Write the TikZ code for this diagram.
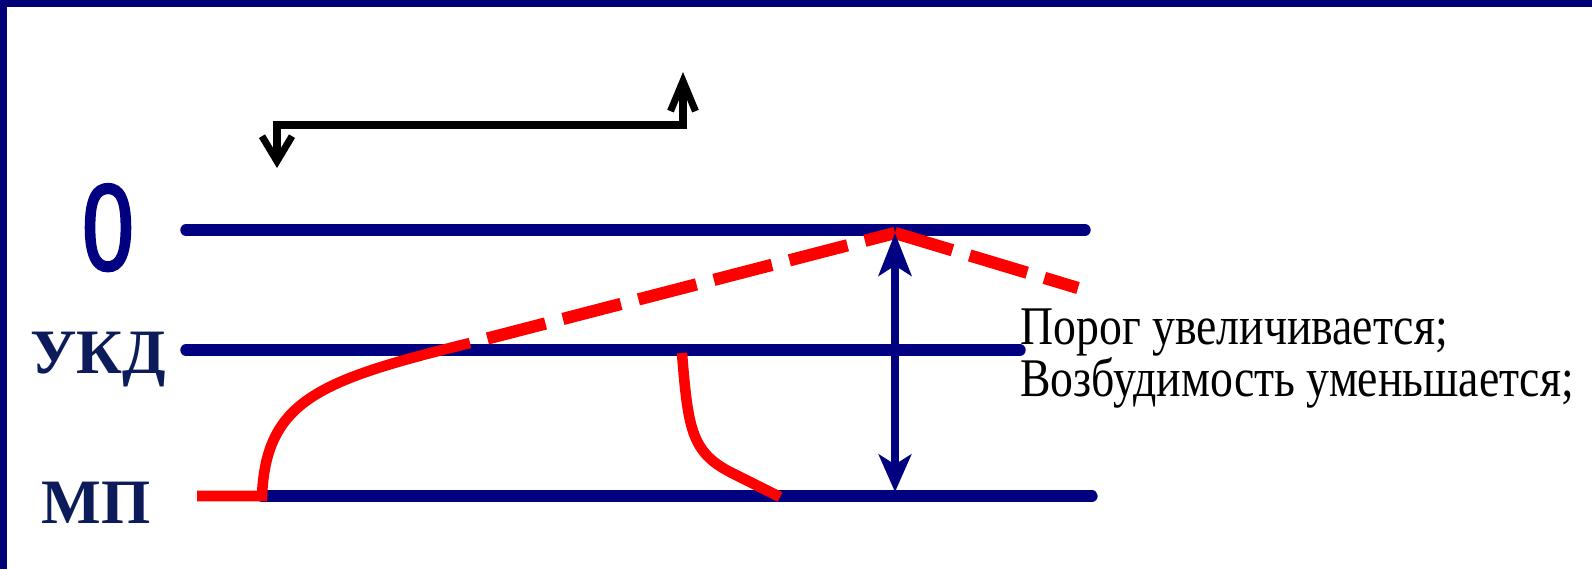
\documentclass[tikz,border=0pt]{standalone}
\usepackage{fontspec}
\setmainfont{Liberation Serif}
\newfontfamily\condserif[FakeStretch=0.84]{Liberation Serif}
\newfontfamily\zerofont[FakeStretch=0.75,FakeBold=2]{Liberation Sans}
\usetikzlibrary{arrows.meta}
\definecolor{framenavy}{RGB}{0,0,120}
\definecolor{levelnavy}{RGB}{0,0,128}
\definecolor{labelnavy}{RGB}{12,28,90}
\definecolor{spikered}{RGB}{255,0,0}
\tikzset{
  level/.style={levelnavy, line width=6.5pt, line cap=round},
  levellabel/.style={text=labelnavy, inner sep=0pt, anchor=base,
    font=\fontsize{36}{36}\selectfont\bfseries},
  spike/.style={spikered, line width=6pt},
  spikedash/.style={spikered, line width=7pt, dash pattern=on 1.2cm off 0.36cm},
  note/.style={inner sep=0pt, anchor=base west, font=\fontsize{31}{31}\condserif},
}

\begin{document}
\begin{tikzpicture}[x=0.02cm, y=-0.02cm]
        \useasboundingbox (0,0) rectangle (1592,569);
        % Frame
        \fill[framenavy] (0,0) rectangle (1592,7);
        \fill[framenavy] (0,0) rectangle (7,569);
        % Points
        \coordinate (peak) at (895,233);
        \coordinate (solidend) at (470,343);
        \coordinate (dashend) at (1078,288);
        \coordinate (mpfoot) at (895,492);
        \coordinate (brl) at (277,168);
        \coordinate (brr) at (683,72);
        % Levels
        \draw[level] (186,230) -- (1085,230);
        \draw[level] (186,350) -- (1020,350);
        \draw[level] (262,496) -- (1092,496);
        \node[levellabel, text=levelnavy, font=\fontsize{70}{70}\zerofont] (lzero) at (108,270) {0};
        \node[levellabel] (lukd) at (98,373) {УКД};
        \node[levellabel] (lmp) at (96,523) {МП};
        % Potential
        \draw[spike] (197,496) -- (262,496) .. controls (266,400) and (320,380) .. (solidend);
        \draw[spikedash, dash phase=1.2cm] (solidend) -- (peak);
        \draw[spikedash] (peak) -- (dashend);
        \draw[spike] (682,353) .. controls (688,430) and (692,452) .. (730,472) -- (780,497);
        % Threshold gap
        \draw[levelnavy, line width=5pt,
          {Stealth[length=0.85cm,width=0.65cm,inset=0.2cm]}-{Stealth[length=0.75cm,width=0.65cm,inset=0.2cm]}]
          (peak) -- (mpfoot);
        % Stimulus
        \draw[line width=4pt, {Straight Barb[length=0.5cm,width=0.6cm]}-{Straight Barb[length=0.6cm,width=0.5cm]}]
          (brl) |- (683,125) -- (brr);
        % Notes
        \node[note] (porog) at (1020,344) {Порог увеличивается;};
        \node[note] (excit) at (1020,396) {Возбудимость уменьшается;};
\end{tikzpicture}
\end{document}
